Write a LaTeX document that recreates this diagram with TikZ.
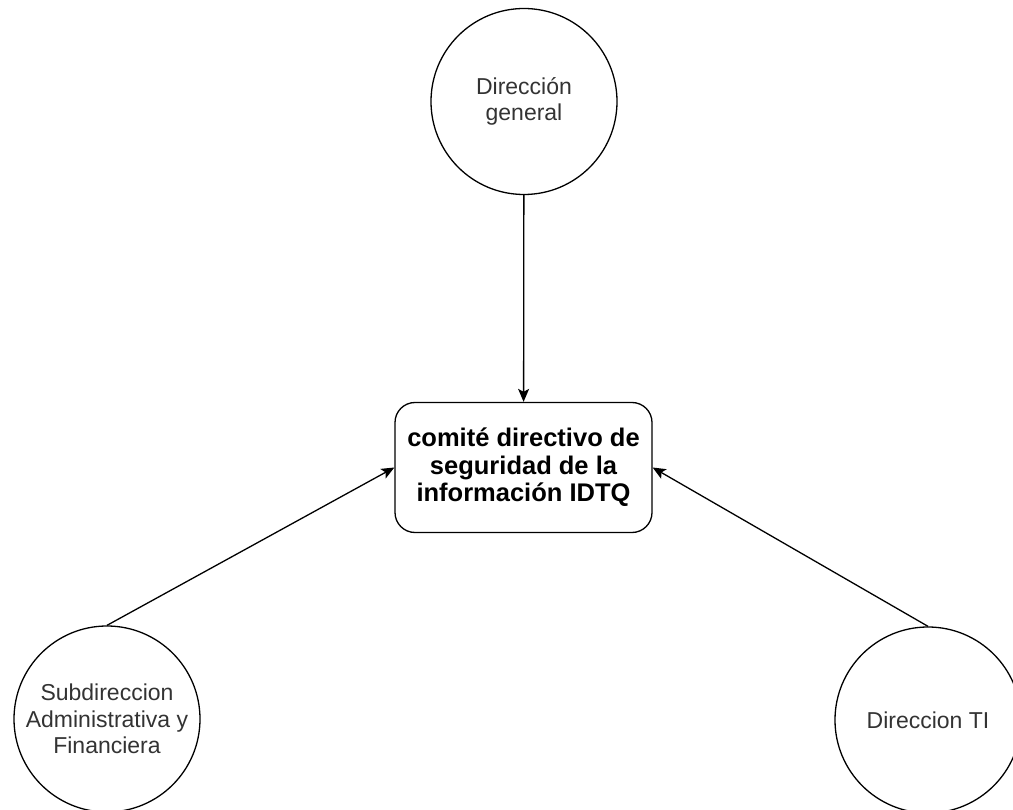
\documentclass[tikz,border=0pt]{standalone}
\usepackage{fontspec}
\setmainfont{Liberation Sans}
\usepackage{tikz}
\usetikzlibrary{arrows.meta,calc}
\usepackage{xcolor}
\definecolor{UnitText}{HTML}{333333}

\begin{document}
\begin{tikzpicture}[x=1pt,y=-1pt,
    unit/.style={circle,draw,line width=1.3pt,minimum size=186pt,inner sep=0pt,
      align=center,text=UnitText,font=\fontsize{23}{26.5}\selectfont},
    committee/.style={rectangle,draw,rounded corners=20pt,line width=1.3pt,
      minimum width=257pt,minimum height=130pt,align=center,
      font=\fontsize{25.5}{27.5}\selectfont\bfseries},
    link/.style={line width=1.3pt,-{Stealth[length=13pt,width=11pt,inset=3pt]}}]
    \useasboundingbox (0,0) rectangle (1013,810);
    \clip (0,0) rectangle (1013,810);
    \node[committee] (comite) at (523.5,467.5) {comité directivo de\\seguridad de la\\información IDTQ};
    \node[unit] (dirgen) at (524,101.5) {Dirección\\general};
    \node[unit] (subdir) at (107,719) {Subdireccion\\Administrativa y\\Financiera};
    \node[unit] (dirti) at (928,720) {Direccion TI};
    \draw[link] (dirgen) -- (comite);
    \foreach \unit/\side in {subdir/west,dirti/east} {
     \draw[link] (\unit.north) -- (comite.\side);
    }
\end{tikzpicture}
\end{document}
